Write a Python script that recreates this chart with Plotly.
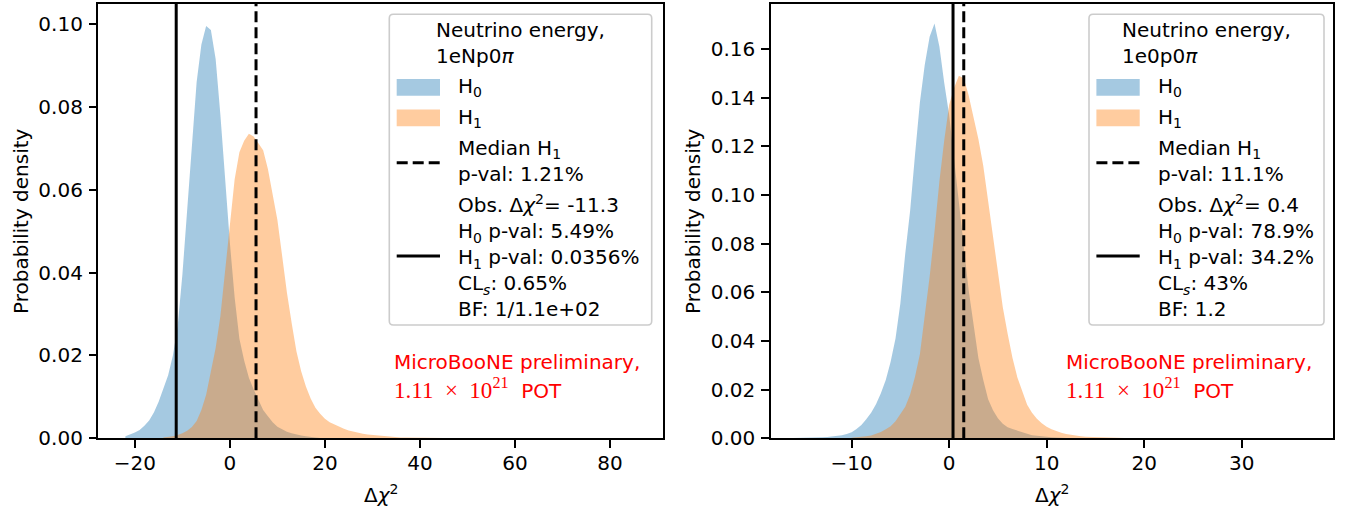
import numpy as np
import plotly.graph_objects as go

W, H = 1348, 514

# ---- left panel: 1eNp0pi, bins of width 1 (bin centres start at *_START) ----
NP_BIN = 1.0
NP_H0_START = -22
NP_H0 = [0.0005, 0.0009, 0.0014, 0.0020, 0.0030, 0.0043, 0.0062, 0.0088, 0.0118, 0.0152,
         0.0200, 0.0270, 0.0395, 0.0551, 0.0725, 0.0860, 0.0950, 0.0995, 0.0985, 0.0915,
         0.0780, 0.0620, 0.0471, 0.0340, 0.0240, 0.0188, 0.0146, 0.0118, 0.0093, 0.0068,
         0.0053, 0.0039, 0.0028, 0.0021, 0.0016, 0.0012, 0.0009, 0.0007, 0.0005, 0.0003,
         0.0002, 0.0001, 0.0001]
NP_H1_START = -14
NP_H1 = [0.0002, 0.0003, 0.0005, 0.0008, 0.0012, 0.0018, 0.0027, 0.0042, 0.0068, 0.0105,
         0.0158, 0.0218, 0.0295, 0.0400, 0.0515, 0.0625, 0.0690, 0.0718, 0.0735, 0.0728,
         0.0712, 0.0695, 0.0650, 0.0590, 0.0527, 0.0440, 0.0352, 0.0278, 0.0210, 0.0162,
         0.0125, 0.0096, 0.0074, 0.0059, 0.0047, 0.0039, 0.0033, 0.0028, 0.0023, 0.0019,
         0.0016, 0.0013, 0.0011, 0.0009, 0.0008, 0.0006, 0.0005, 0.0004, 0.0003, 0.0003,
         0.0002, 0.0002, 0.0002, 0.0001, 0.0001, 0.0001, 0.0001, 0.00005, 0.00005, 0.00005]
NP_OBS = -11.3
NP_MEDIAN_H1 = 5.5
NP_XRANGE = [-27.7, 91.1]
NP_YRANGE = [0, 0.1048]

# ---- right panel: 1e0p0pi, bins of width 0.5 ----
ZP_BIN = 0.5
ZP_H0_START = -16.0
ZP_H0 = [0.0001, 0.0001, 0.0001, 0.0002, 0.0002, 0.0003, 0.0004, 0.0005, 0.0007, 0.0009,
         0.0013, 0.0018, 0.0025, 0.0038, 0.0055, 0.0078, 0.0105, 0.0140, 0.0185, 0.0240,
         0.0315, 0.0410, 0.0555, 0.0760, 0.0935, 0.1165, 0.1380, 0.1535, 0.1650, 0.1705,
         0.1610, 0.1460, 0.1330, 0.1150, 0.0960, 0.0790, 0.0610, 0.0475, 0.0330, 0.0240,
         0.0160, 0.0115, 0.0082, 0.0060, 0.0045, 0.0038, 0.0032, 0.0024, 0.0018, 0.0013,
         0.0010, 0.0007, 0.0005, 0.0004, 0.0003, 0.0002, 0.0001]
ZP_H1_START = -10.0
ZP_H1 = [0.0002, 0.0003, 0.0005, 0.0008, 0.0012, 0.0018, 0.0026, 0.0037, 0.0050, 0.0070,
         0.0098, 0.0130, 0.0180, 0.0253, 0.0345, 0.0495, 0.0664, 0.0850, 0.1055, 0.1225,
         0.1370, 0.1440, 0.1490, 0.1480, 0.1410, 0.1320, 0.1230, 0.1120, 0.0980, 0.0820,
         0.0680, 0.0540, 0.0430, 0.0330, 0.0250, 0.0190, 0.0138, 0.0105, 0.0080, 0.0062,
         0.0047, 0.0037, 0.0029, 0.0023, 0.0018, 0.0014, 0.0010, 0.0008, 0.0006, 0.0005,
         0.0004, 0.0003, 0.0003, 0.0002, 0.0002, 0.0002, 0.0001, 0.0001, 0.0001, 0.0001,
         0.0001]
ZP_OBS = 0.4
ZP_MEDIAN_H1 = 1.5
ZP_XRANGE = [-18.3, 39.4]
ZP_YRANGE = [0, 0.1785]

# legend texts
NP_TITLE = 'Neutrino energy,<br>1eNp0<i>π</i>'
ZP_TITLE = 'Neutrino energy,<br>1e0p0<i>π</i>'
NP_MEDIAN_TXT = 'Median H<sub>1</sub><br>p-val: 1.21%'
ZP_MEDIAN_TXT = 'Median H<sub>1</sub><br>p-val: 11.1%'
NP_OBS_TXT = ('Obs. Δ<i>χ</i><sup>2</sup>= -11.3<br>H<sub>0</sub> p-val: 5.49%<br>'
              'H<sub>1</sub> p-val: 0.0356%<br>CL<sub><i>s</i></sub>: 0.65%<br>BF: 1/1.1e+02')
ZP_OBS_TXT = ('Obs. Δ<i>χ</i><sup>2</sup>= 0.4<br>H<sub>0</sub> p-val: 78.9%<br>'
              'H<sub>1</sub> p-val: 34.2%<br>CL<sub><i>s</i></sub>: 43%<br>BF: 1.2')
PRELIM_1 = 'MicroBooNE preliminary,'
PRELIM_2 = ("<span style='font-family:Liberation Serif;font-size:23px'>"
            "1.11&nbsp;&nbsp;×&nbsp;&nbsp;10<sup>21</sup></span>&nbsp;&nbsp;POT")

BLUE = 'rgba(31,119,180,0.4)'
ORANGE = 'rgba(255,127,14,0.4)'
FONT = 'DejaVu Sans'


def px(x):
    return x / W


def py(y):
    return 1 - y / H


def hist_trace(start, width, vals, color, xa, ya):
    # fine histogram drawn as a filled outline through the bin centres
    centres = start + width * np.arange(len(vals))
    return go.Scatter(x=centres, y=vals, mode='lines', line=dict(width=0),
                      fill='tozeroy', fillcolor=color, xaxis=xa, yaxis=ya,
                      showlegend=False, hoverinfo='skip')


fig = go.Figure()
fig.add_trace(hist_trace(NP_H0_START, NP_BIN, NP_H0, BLUE, 'x', 'y'))
fig.add_trace(hist_trace(NP_H1_START, NP_BIN, NP_H1, ORANGE, 'x', 'y'))
fig.add_trace(hist_trace(ZP_H0_START, ZP_BIN, ZP_H0, BLUE, 'x2', 'y2'))
fig.add_trace(hist_trace(ZP_H1_START, ZP_BIN, ZP_H1, ORANGE, 'x2', 'y2'))

ydom = [py(438.3), py(4)]
fig.update_layout(
    width=W, height=H, margin=dict(l=0, r=0, t=0, b=0),
    paper_bgcolor='white', plot_bgcolor='white', showlegend=False,
    font=dict(family=FONT, size=20, color='black'),
    xaxis=dict(domain=[px(98.3), px(662.7)], range=NP_XRANGE, dtick=20, anchor='y'),
    yaxis=dict(domain=ydom, range=NP_YRANGE, dtick=0.02, tickformat='.2f', anchor='x'),
    xaxis2=dict(domain=[px(770.7), px(1333.3)], range=ZP_XRANGE, dtick=10, anchor='y2'),
    yaxis2=dict(domain=ydom, range=ZP_YRANGE, dtick=0.02, tickformat='.2f', anchor='x2'),
)
axis_style = dict(showline=True, linecolor='black', linewidth=1.6, mirror=True,
                  ticks='outside', ticklen=7.6, tickwidth=1.6, tickcolor='black',
                  showgrid=False, zeroline=False, automargin=False,
                  tickfont=dict(family=FONT, size=20, color='black'))
fig.update_xaxes(**axis_style, ticklabelstandoff=-2)
fig.update_yaxes(**axis_style, ticklabelstandoff=2)

shapes = []
annos = []

# observed (solid) and median H1 (dashed) lines
for xr, obs, med in [('x', NP_OBS, NP_MEDIAN_H1), ('x2', ZP_OBS, ZP_MEDIAN_H1)]:
    yr = 'y domain' if xr == 'x' else 'y2 domain'
    shapes.append(dict(type='line', xref=xr, yref=yr, x0=obs, x1=obs, y0=0, y1=1,
                       line=dict(color='black', width=3)))
    shapes.append(dict(type='line', xref=xr, yref=yr, x0=med, x1=med, y0=0, y1=1,
                       line=dict(color='black', width=3, dash='11px,5px')))


def rounded_box(x0, y0, x1, y1, r=4):
    rx, ry = r / W, r / H
    a, b, c, d = px(x0), py(y0), px(x1), py(y1)
    return (f'M{a + rx},{b} L{c - rx},{b} Q{c},{b} {c},{b - ry} L{c},{d + ry} '
            f'Q{c},{d} {c - rx},{d} L{a + rx},{d} Q{a},{d} {a},{d + ry} '
            f'L{a},{b - ry} Q{a},{b} {a + rx},{b} Z')


def txt(x, y, s, xanchor='left', color='black', angle=0):
    annos.append(dict(x=px(x), y=py(y), xref='paper', yref='paper', text=s,
                      showarrow=False, xanchor=xanchor, yanchor='middle', align='left',
                      textangle=angle, font=dict(family=FONT, size=20, color=color)))


# hand-built legends (matplotlib-like)
for bx0, bx1, title, med_txt, obs_txt, red_x in [
        (389.3, 651.7, NP_TITLE, NP_MEDIAN_TXT, NP_OBS_TXT, 391.7),
        (1089.0, 1324.0, ZP_TITLE, ZP_MEDIAN_TXT, ZP_OBS_TXT, 1064.0)]:
    shapes.append(dict(type='path', xref='paper', yref='paper',
                       path=rounded_box(bx0, 14.3, bx1, 325),
                       fillcolor='rgba(255,255,255,0.8)', line=dict(color='#cccccc', width=1.6)))
    hx0 = bx0 + 7.4
    hx1 = hx0 + 43.3
    tx = hx1 + 16
    shapes.append(dict(type='rect', xref='paper', yref='paper', x0=px(hx0), x1=px(hx1),
                       y0=py(95.7), y1=py(79), fillcolor=BLUE, line=dict(width=0)))
    shapes.append(dict(type='rect', xref='paper', yref='paper', x0=px(hx0), x1=px(hx1),
                       y0=py(126.3), y1=py(109.6), fillcolor=ORANGE, line=dict(width=0)))
    shapes.append(dict(type='line', xref='paper', yref='paper', x0=px(hx0), x1=px(hx1),
                       y0=py(162.7), y1=py(162.7),
                       line=dict(color='black', width=3, dash='11px,5px')))
    shapes.append(dict(type='line', xref='paper', yref='paper', x0=px(hx0), x1=px(hx1),
                       y0=py(256), y1=py(256), line=dict(color='black', width=3)))

    txt((bx0 + bx1) / 2, 43, title, xanchor='center')
    txt(tx, 87.3, 'H<sub>0</sub>')
    txt(tx, 118, 'H<sub>1</sub>')
    txt(tx, 161, med_txt)
    txt(tx, 256, obs_txt)
    txt(red_x, 362, PRELIM_1, color='red')
    txt(red_x, 388, PRELIM_2, color='red')

# axis titles
for cx, yx in [(380.5, 21), (1052, 693)]:
    txt(cx, 494, 'Δ<i>χ</i><sup>2</sup>', xanchor='center')
    txt(yx, 221, 'Probability density', xanchor='center', angle=-90)

fig.update_layout(shapes=shapes, annotations=annos)

# no page margin, so the figure sits at the window's top-left corner
fig.write_html("out.html", config={'displayModeBar': False},
               post_script="document.body.style.margin='0';")
